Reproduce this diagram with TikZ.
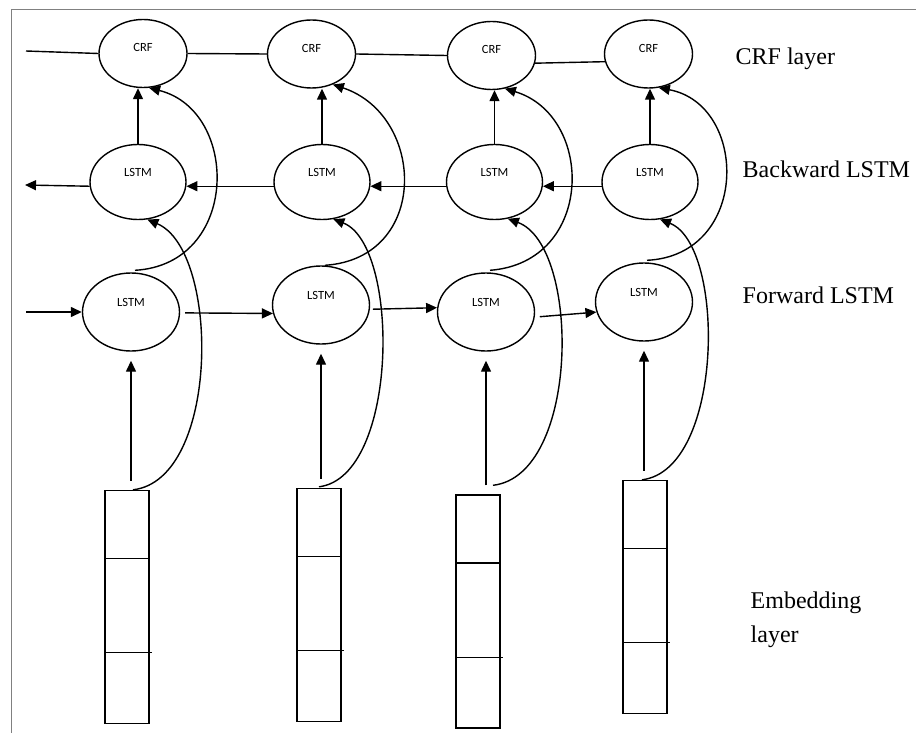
\documentclass[tikz,border=0pt]{standalone}
\usepackage{fontspec}
\setmainfont{Liberation Serif}
\newfontfamily\cellfont{Carlito}
\usetikzlibrary{arrows.meta,shapes.geometric,calc}

\begin{document}
\begin{tikzpicture}[x=1pt,y=-1pt,
  line width=1.4pt,
  every node/.style={inner sep=0pt},
  arr/.style={-{Triangle[length=11pt,width=10pt]}},
  celltext/.style={font=\cellfont\fontsize{12.5}{12.5}\selectfont},
  crfnode/.style={ellipse,draw,minimum width=88pt,minimum height=68pt,
    label={[celltext,yshift=6pt]center:CRF}},
  bwdnode/.style={ellipse,draw,minimum width=96pt,minimum height=75pt,
    label={[celltext,yshift=10pt]center:LSTM}},
  fwdnode/.style={ellipse,draw,minimum width=97pt,minimum height=78pt,
    label={[celltext,yshift=10pt]center:LSTM}},
  embbox/.style={rectangle,draw,minimum width=44pt,minimum height=233pt},
  layertext/.style={font=\fontsize{24}{24}\selectfont,anchor=base west}
]
\useasboundingbox (0,0) rectangle (916,733);

% frame
\draw[line width=1pt,color=gray] (11,733) -- (11,10) -- (916,10);

% CRF layer
\node[crfnode] (c1) at (143,53.5) {};
\node[crfnode] (c2) at (311.5,54) {};
\node[crfnode] (c3) at (491.5,55.5) {};
\node[crfnode] (c4) at (648.5,54) {};

% backward LSTM
\node[bwdnode] (b1) at (138,182) {};
\node[bwdnode] (b2) at (322,182) {};
\node[bwdnode] (b3) at (494.5,182) {};
\node[bwdnode] (b4) at (650,182) {};

% forward LSTM
\node[fwdnode] (f1) at (131,312) {};
\node[fwdnode] (f2) at (321,305) {};
\node[fwdnode] (f3) at (486,312) {};
\node[fwdnode] (f4) at (644,302) {};

% embedding vectors
\node[embbox] (e1) at (127,607) {};
\node[embbox] (e2) at (319,605) {};
\node[embbox] (e3) at (478,611.5) {};
\node[embbox] (e4) at (645,597) {};
\foreach \e in {e1,e2,e3,e4} {
  \draw ($(\e.north west)!0.293!(\e.south west)$) -- ($(\e.north east)!0.293!(\e.south east)$);
  \draw ($(\e.north west)!0.695!(\e.south west)$) -- ($(\e.north east)!0.695!(\e.south east)+(2,0)$);
}

% layer names
\node[layertext] (lblcrf) at (735,65) {CRF layer};
\node[layertext] (lblbwd) at (742,178) {Backward LSTM};
\node[layertext] (lblfwd) at (742,303) {Forward LSTM};
\node[layertext] (lblemb1) at (750,608) {Embedding};
\node[layertext] (lblemb2) at (750,642) {layer};

% CRF chain
\coordinate (cin) at (26,51);
\draw (cin) -- (c1.west);
\draw (c1.east) -- (c2.west);
\draw (c2.east) -- (c3.west);
\draw (c3.-10) -- (c4.190);

% backward chain
\coordinate (bout) at (25,185);
\draw[arr] (b4.185) -- (b3.-5);
\draw[arr] (b3.185) -- (b2.-5);
\draw[arr] (b2.185) -- (b1.-5);
\draw[arr] (b1.185) -- (bout);

% forward chain
\coordinate (fin) at (26,312);
\draw[arr] (fin) -- (f1.west);
\draw[arr,shorten <=5pt] (f1.-1) -- (f2.190);
\draw[arr,shorten <=3pt] (f2.-5) -- (f3.175);
\draw[arr,shorten <=5pt] (f3.-6) -- (f4.192);

% vertical links
\foreach \i in {1,...,4} {
  \draw[arr,shorten <=9pt,shorten >=9pt] (e\i.north -| f\i.south) -- (f\i.south);
  \draw[arr] (b\i.north) -- (b\i.north |- c\i.south);
}

% embeddings to backward LSTM
\draw[arr] ($(e1.north)+(6,0)$) .. controls +(87,-10) and +(73,31) .. (b1.-76);
\draw[arr] ($(e2.north)+(0,-1)$) .. controls +(80,-10) and +(67,26) .. (b2.-73);
\draw[arr] ($(e3.north)+(15,-9)$) .. controls +(87,-10) and +(73,27) .. (b3.-70);
\draw[arr] ($(e4.north)+(-3,0)$) .. controls +(82,-10) and +(66,26) .. (b4.-75);

% forward LSTM to CRF
\draw[arr] ($(f1.north)+(4,-2)$) .. controls +(105,-6) and +(91,23) .. (c1.-80);
\draw[arr] ($(f2.north)+(4,0)$) .. controls +(105,-7) and +(93,31) .. (c2.-55);
\draw[arr] ($(f3.north)+(4,-2)$) .. controls +(105,-8) and +(90,27) .. (c3.-68);
\draw[arr] ($(f4.north)+(3,-2)$) .. controls +(103,-5) and +(90,17) .. (c4.-73);
\end{tikzpicture}
\end{document}
